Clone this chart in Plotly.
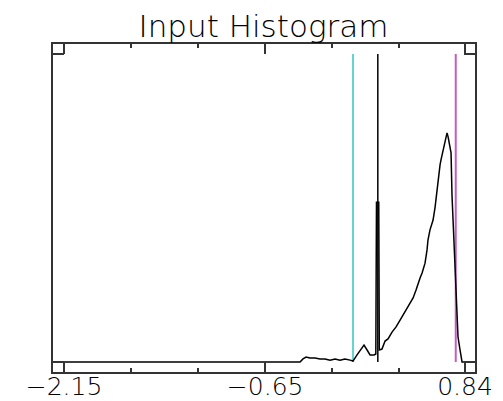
import plotly.graph_objects as go

# Histogram curve (bin value, normalised frequency)
hist_x = [-2.15, -0.390, -0.368, -0.345, -0.316, -0.278, -0.241, -0.204, -0.166, -0.129,
          -0.092, -0.055, -0.017, 0.005, 0.035, 0.065, 0.087, 0.110, 0.132, 0.162,
          0.175, 0.180, 0.197, 0.201, 0.221, 0.244, 0.266, 0.296, 0.326, 0.356,
          0.385, 0.415, 0.453, 0.475, 0.490, 0.505, 0.520, 0.542, 0.557, 0.564,
          0.579, 0.602, 0.617, 0.631, 0.639, 0.654, 0.661, 0.676, 0.691, 0.699,
          0.706, 0.714, 0.721, 0.736, 0.743, 0.751, 0.766, 0.773, 0.781, 0.788,
          0.803, 0.811, 0.818, 0.840]
hist_y = [0.0, 0.0, 0.010, 0.016, 0.013, 0.013, 0.010, 0.010, 0.006, 0.010,
          0.006, 0.010, 0.006, 0.003, 0.023, 0.042, 0.055, 0.039, 0.023, 0.023,
          0.026, 0.519, 0.519, 0.039, 0.042, 0.068, 0.075, 0.097, 0.114, 0.136,
          0.159, 0.179, 0.208, 0.234, 0.256, 0.273, 0.289, 0.321, 0.364, 0.396,
          0.429, 0.461, 0.503, 0.558, 0.601, 0.640, 0.656, 0.688, 0.714, 0.727,
          0.744, 0.731, 0.714, 0.679, 0.542, 0.451, 0.315, 0.201, 0.136, 0.081,
          0.039, 0.019, 0.0, 0.0]

# Marker lines
marker_x = [0.005, 0.19, 0.771]
marker_colors = ["#63d4d4", "#000000", "#c45cc4"]
marker_widths = [2, 1.5, 2]

major_ticks = [-2.15, -0.65, 0.84]
major_labels = ["\u22122.15", "\u22120.65", "0.84"]
minor_ticks = [-1.65, -1.15, -0.15, 0.35]

title_text = "Input Histogram"

fig = go.Figure()

for mx, mc, mw in zip(marker_x, marker_colors, marker_widths):
    fig.add_trace(go.Scatter(x=[mx, mx], y=[0, 1], mode="lines",
                             line=dict(color=mc, width=mw), showlegend=False,
                             hoverinfo="skip"))

fig.add_trace(go.Scatter(x=hist_x, y=hist_y, mode="lines",
                         line=dict(color="black", width=1.5), showlegend=False))

axis_font = dict(family="DejaVu Sans", size=25, color="black", weight=200)

# page body has an 8px margin, so the figure is laid out 8px smaller
fig.update_layout(
    width=495, height=393,
    margin=dict(l=45, r=28, t=36, b=29, pad=0, autoexpand=False),
    paper_bgcolor="white", plot_bgcolor="white",
    title=dict(text=title_text, x=(263.5 - 8) / 495, xanchor="center", yref="container",
               y=1 - 18 / 393, yanchor="middle", automargin=False,
               font=dict(family="DejaVu Sans", size=31, color="black", weight=200)),
    xaxis=dict(range=[-2.232, 0.9146], showgrid=False, zeroline=False, automargin=False,
               showline=True, linecolor="#333", linewidth=2, mirror="ticks",
               ticks="inside", ticklen=10, tickwidth=1.5, tickcolor="#333",
               tickmode="array", tickvals=major_ticks, ticktext=major_labels,
               tickfont=axis_font, ticklabelstandoff=-9,
               minor=dict(tickmode="array", tickvals=minor_ticks, ticks="inside",
                          ticklen=4, tickwidth=1.5, tickcolor="#333")),
    yaxis=dict(range=[-0.0325, 1.0325], showgrid=False, zeroline=False, automargin=False,
               showline=True, linecolor="#333", linewidth=2, mirror="ticks",
               ticks="inside", ticklen=11, tickwidth=1.5, tickcolor="#333",
               tickmode="array", tickvals=[0, 1], showticklabels=False),
)

fig.write_html("out.html")
